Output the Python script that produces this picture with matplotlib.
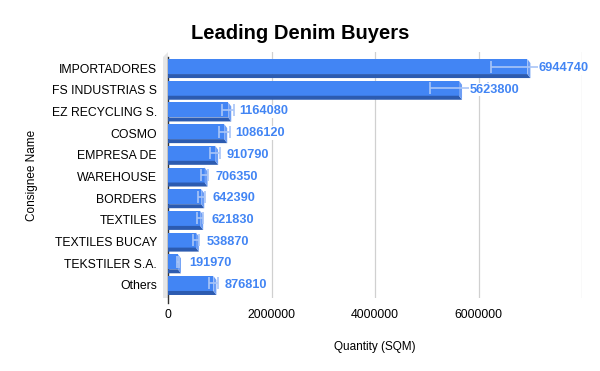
import matplotlib
matplotlib.use('Agg')
import matplotlib.pyplot as plt
from matplotlib.patches import Polygon
import numpy as np

# Data
consignees = ['IMPORTADORES', 'FS INDUSTRIAS S', 'EZ RECYCLING S.', 'COSMO',
              'EMPRESA DE', 'WAREHOUSE', 'BORDERS', 'TEXTILES',
              'TEXTILES BUCAY', 'TEKSTILER S.A.', 'Others']
quantity = [6944740, 5623800, 1164080, 1086120, 910790, 706350,
            642390, 621830, 538870, 191970, 876810]
err_frac = 0.10  # error bars shown as +/-10%

plt.rcParams.update({
    'font.family': ['Liberation Sans', 'DejaVu Sans'],
    'font.size': 9,
})

FRONT = '#4285f4'
BOTTOM = '#2c5bb0'
SIDE = '#6d9ef5'
ERR = '#a9c5f7'

fig = plt.figure(figsize=(6, 3.71), dpi=100)
W, H = 600, 371
ax = fig.add_axes([168 / W, 1 - 298 / H, (582 - 168) / W, (298 - 52) / H])
ax.set_xlim(0, 8e6)
ax.set_ylim(10.6, -0.74)

# pixel -> data unit helpers
px_x = 8e6 / 414
px_y = (10.6 + 0.74) / 246

face_h = 15 * px_y
depth_dx = 3 * px_x
depth_dy = 4 * px_y
x0_shift = -3 * px_x

# grid
for g in [2e6, 4e6, 6e6, 8e6]:
    ax.axvline(g, color='#d0d0d0', lw=0.9, zorder=0)

# left wall
wall = Polygon([(-5 * px_x, -0.74 + 5 * px_y), (0, -0.74), (0, 10.6), (-5 * px_x, 10.6)],
               closed=True, transform=ax.transData, facecolor='#e6e6e6',
               edgecolor='none', clip_on=False, zorder=1)
ax.add_patch(wall)
ax.plot([0, 0], [-0.5, 10.85], color='#333333', lw=1, clip_on=False, zorder=1)

y = np.arange(len(consignees))
for yi, q in zip(y, quantity):
    top = yi - face_h / 2 - 1.5 * px_y
    bot = top + face_h
    xs = x0_shift
    # front face
    ax.add_patch(Polygon([(xs, top), (q, top), (q, bot), (xs, bot)],
                         facecolor=FRONT, edgecolor='none', zorder=3))
    # bottom face
    ax.add_patch(Polygon([(xs, bot), (q, bot), (q + depth_dx, bot + depth_dy),
                          (xs + depth_dx, bot + depth_dy)],
                         facecolor=BOTTOM, edgecolor='none', zorder=3))
    # side face
    ax.add_patch(Polygon([(q, top), (q + depth_dx, top + depth_dy),
                          (q + depth_dx, bot + depth_dy), (q, bot)],
                         facecolor=SIDE, edgecolor='none', zorder=3))
    ax.errorbar(q, top + face_h / 2, xerr=q * err_frac, color=ERR, lw=1.2,
                capsize=4.5, capthick=1.2, zorder=4)
    ax.text(q + 11 * px_x, yi, f'{q}', color=FRONT, fontsize=9.2, fontweight='bold',
            va='center', ha='left', zorder=5,
            bbox=dict(facecolor='white', edgecolor='none', pad=0.5))

ax.set_yticks(y)
ax.set_yticklabels(consignees, fontsize=8.8)
ax.set_xticks([0, 2e6, 4e6, 6e6])
ax.set_xticklabels(['0', '2000000', '4000000', '6000000'], fontsize=8.8)
ax.tick_params(axis='both', length=0)
ax.tick_params(axis='y', pad=8)
ax.tick_params(axis='x', pad=8)
for s in ax.spines.values():
    s.set_visible(False)

ax.set_xlabel('Quantity (SQM)', fontsize=8.5, labelpad=14)
ax.set_ylabel('Consignee Name', fontsize=8.5, labelpad=10)
fig.suptitle('Leading Denim Buyers', x=0.5, y=0.935, fontsize=14.5, fontweight='bold')

fig.savefig('out.png', dpi=100)
